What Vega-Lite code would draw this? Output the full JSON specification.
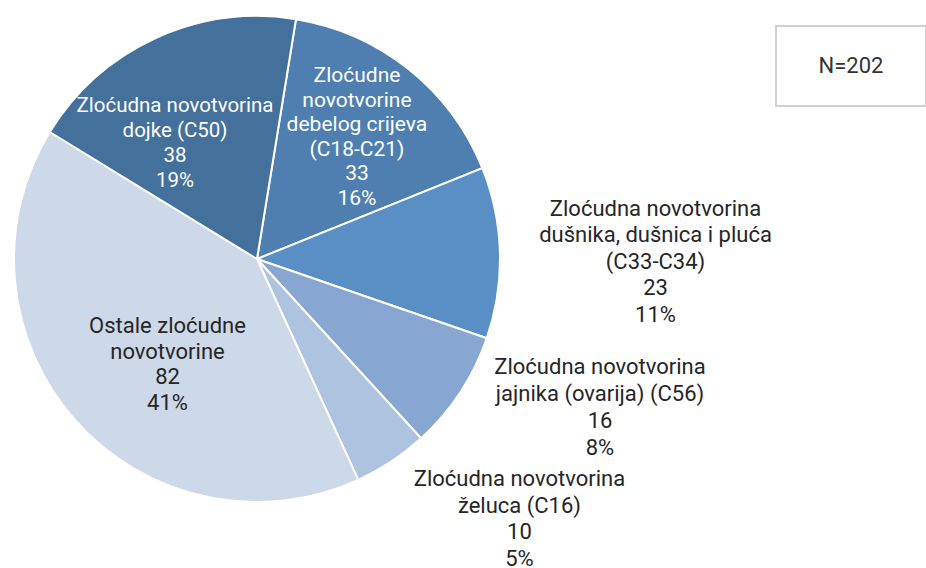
{
  "$schema": "https://vega.github.io/schema/vega-lite/v6.json",
  "background": "white",
  "padding": {"left": 0, "top": 12, "right": 0, "bottom": 0},
  "bounds": "flush",
  "spacing": 262,
  "config": {"view": {"stroke": null}, "font": "Roboto"},
  "hconcat": [
    {
      "width": 514,
      "height": 466,
      "data": {
        "values": [
          {"id": "debelog", "order": 1, "name": "Zloćudne\nnovotvorine\ndebelog crijeva\n(C18-C21)", "value": 33, "pct": 16},
          {"id": "dusnika", "order": 2, "name": "Zloćudna novotvorina\ndušnika, dušnica i pluća\n(C33-C34)", "value": 23, "pct": 11},
          {"id": "jajnika", "order": 3, "name": "Zloćudna novotvorina\njajnika (ovarija) (C56)", "value": 16, "pct": 8},
          {"id": "zeluca", "order": 4, "name": "Zloćudna novotvorina\nželuca (C16)", "value": 10, "pct": 5},
          {"id": "ostale", "order": 5, "name": "Ostale zloćudne\nnovotvorine", "value": 82, "pct": 41},
          {"id": "dojke", "order": 6, "name": "Zloćudna novotvorina\ndojke (C50)", "value": 38, "pct": 19}
        ]
      },
      "transform": [
        {"stack": "value", "groupby": [], "sort": [{"field": "order", "order": "ascending"}], "as": ["v0", "v1"]},
        {"calculate": "datum.name + '\\n' + datum.value + '\\n' + datum.pct + '%'", "as": "label"}
      ],
      "layer": [
        {
          "mark": {"type": "arc", "outerRadius": 243, "stroke": "white", "strokeWidth": 2},
          "encoding": {
            "theta": {"field": "v0", "type": "quantitative", "scale": {"domain": [0, 202], "range": [0.1611, 6.4443]}},
            "theta2": {"field": "v1"},
            "color": {
              "field": "id",
              "type": "nominal",
              "scale": {
                "domain": ["debelog", "dusnika", "jajnika", "zeluca", "ostale", "dojke"],
                "range": ["#4e7fb0", "#5a8fc6", "#87a7d2", "#adc3e0", "#cdd8e8", "#44709c"]
              },
              "legend": null
            }
          }
        },
        {
          "transform": [{"filter": "datum.id === 'debelog'"}],
          "mark": {"type": "text", "radius": 208.5, "thetaOffset": 0.3389, "fontSize": 21, "lineHeight": 24.5, "lineBreak": "\n", "color": "white", "align": "center", "baseline": "middle"},
          "encoding": {"theta": {"field": "v0", "type": "quantitative", "scale": {"domain": [0, 202], "range": [0.1611, 6.4443]}}, "text": {"field": "label"}}
        },
        {
          "transform": [{"filter": "datum.id === 'dusnika'"}],
          "mark": {"type": "text", "radius": 401.7, "thetaOffset": 0.2573, "fontSize": 22, "lineHeight": 26.5, "lineBreak": "\n", "color": "#262626", "align": "center", "baseline": "middle"},
          "encoding": {"theta": {"field": "v0", "type": "quantitative", "scale": {"domain": [0, 202], "range": [0.1611, 6.4443]}}, "text": {"field": "label"}}
        },
        {
          "transform": [{"filter": "datum.id === 'jajnika'"}],
          "mark": {"type": "text", "radius": 359.6, "thetaOffset": -0.0271, "fontSize": 22, "lineHeight": 27, "lineBreak": "\n", "color": "#262626", "align": "center", "baseline": "middle"},
          "encoding": {"theta": {"field": "v0", "type": "quantitative", "scale": {"domain": [0, 202], "range": [0.1611, 6.4443]}}, "text": {"field": "label"}}
        },
        {
          "transform": [{"filter": "datum.id === 'zeluca'"}],
          "mark": {"type": "text", "radius": 342.5, "thetaOffset": -0.1321, "fontSize": 22, "lineHeight": 26.5, "lineBreak": "\n", "color": "#262626", "align": "center", "baseline": "middle"},
          "encoding": {"theta": {"field": "v0", "type": "quantitative", "scale": {"domain": [0, 202], "range": [0.1611, 6.4443]}}, "text": {"field": "label"}}
        },
        {
          "transform": [{"filter": "datum.id === 'ostale'"}],
          "mark": {"type": "text", "radius": 111.8, "thetaOffset": 1.3582, "fontSize": 22, "lineHeight": 25.7, "lineBreak": "\n", "color": "#262626", "align": "center", "baseline": "middle"},
          "encoding": {"theta": {"field": "v0", "type": "quantitative", "scale": {"domain": [0, 202], "range": [0.1611, 6.4443]}}, "text": {"field": "label"}}
        },
        {
          "transform": [{"filter": "datum.id === 'dojke'"}],
          "mark": {"type": "text", "radius": 173.6, "thetaOffset": 0.529, "fontSize": 20.5, "lineHeight": 25, "lineBreak": "\n", "color": "white", "align": "center", "baseline": "middle"},
          "encoding": {"theta": {"field": "v0", "type": "quantitative", "scale": {"domain": [0, 202], "range": [0.1611, 6.4443]}}, "text": {"field": "label"}}
        }
      ]
    },
    {
      "width": 150,
      "height": 80,
      "view": {"stroke": "#d0d0d0", "strokeWidth": 2},
      "data": {"values": [{"t": "N=202"}]},
      "mark": {"type": "text", "fontSize": 22, "font": "Roboto", "color": "#333333"},
      "encoding": {"text": {"field": "t", "type": "nominal"}}
    }
  ]
}
